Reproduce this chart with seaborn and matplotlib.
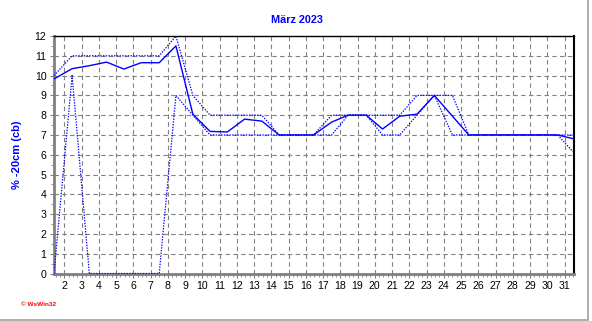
import matplotlib
matplotlib.use("Agg")
import matplotlib.pyplot as plt
from matplotlib.lines import Line2D
from matplotlib.ticker import MultipleLocator
import seaborn as sns
import pandas as pd

# ---- data (day of month as fractional time) ----
times = [1.40, 2.45, 3.45, 4.45, 5.45, 6.45, 7.5, 8.47, 9.45, 10.45, 11.45,
         12.45, 13.45, 14.45, 15.45, 16.45, 17.5, 18.45, 19.5, 20.45, 21.45,
         22.45, 23.45, 24.5, 25.45, 26.45, 27.45, 28.45, 29.45, 30.6, 31.55]
mean_vals = [9.83, 10.35, 10.5, 10.68, 10.33, 10.65, 10.65, 11.5, 8.05, 7.18, 7.15,
             7.8, 7.7, 7.0, 7.0, 7.0, 7.65, 8.0, 8.0, 7.3, 7.95,
             8.05, 9.0, 7.95, 7.0, 7.0, 7.0, 7.0, 7.0, 7.0, 6.8]
max_vals = [10, 11, 11, 11, 11, 11, 11, 12, 9, 8, 8,
            8, 8, 7, 7, 7, 8, 8, 8, 8, 8,
            9, 9, 9, 7, 7, 7, 7, 7, 7, 7]
min_vals = [0, 10, 0, 0, 0, 0, 0, 9, 8, 7, 7,
            7, 7, 7, 7, 7, 7, 8, 8, 7, 7,
            8, 9, 7, 7, 7, 7, 7, 7, 7, 6.1]
day_ticks = list(range(2, 32))
y_ticks = list(range(0, 13))
title = "März 2023"
ylabel = "% -20cm (cb)"
credit = "© WsWin32"

df = pd.DataFrame({"t": times, "mean": mean_vals, "max": max_vals, "min": min_vals})

sns.set_style("white")
plt.rcParams["font.family"] = ["Liberation Sans", "DejaVu Sans"]

fig = plt.figure(figsize=(5.92, 3.21), dpi=100)
ax = fig.add_axes([54 / 592, 1 - 273.5 / 321, 520 / 592, 237.5 / 321])

blue = "#0000ff"
sns.lineplot(data=df, x="t", y="max", ax=ax, color=blue, lw=0.9,
             linestyle=(0, (1.1, 1.1)), legend=False, zorder=3)
sns.lineplot(data=df, x="t", y="min", ax=ax, color=blue, lw=0.9,
             linestyle=(0, (1.1, 1.1)), legend=False, zorder=3)
sns.lineplot(data=df, x="t", y="mean", ax=ax, color=blue, lw=1.0,
             legend=False, zorder=4)

ax.set_xlim(1.40, 31.55)
ax.set_ylim(0, 12)
ax.set_xticks(day_ticks)
ax.set_xticklabels([str(d) for d in day_ticks])
ax.set_yticks(y_ticks)
ax.set_yticklabels([str(v) for v in y_ticks])
ax.xaxis.set_minor_locator(MultipleLocator(0.25))
ax.yaxis.set_minor_locator(MultipleLocator(0.5))

ax.grid(True, which="major", color="#808080", linestyle=(0, (4, 3)), linewidth=0.8)
ax.set_axisbelow(True)

for side in ["left", "bottom"]:
    ax.spines[side].set_color("#808080")
    ax.spines[side].set_linewidth(2.0)
ax.spines["top"].set_color("black")
ax.spines["top"].set_linewidth(1.0)
ax.spines["right"].set_color("black")
ax.spines["right"].set_linewidth(1.5)

ax.tick_params(axis="both", which="major", direction="out", length=3, width=0.8,
               color="#808080", labelsize=7.6, labelcolor="black")
ax.tick_params(axis="both", which="minor", direction="out", length=2, width=0.6,
               color="#808080")
ax.tick_params(axis="x", which="major", pad=2.5)
ax.tick_params(axis="y", which="major", pad=2.5)
ax.tick_params(bottom=True, left=True, which="both")

ax.set_xlabel("")
ax.set_ylabel(ylabel, color=blue, fontsize=8.0, fontweight="bold")
ax.yaxis.set_label_coords(-32 / 520, 0.5)

fig.text(297 / 592, 1 - 20 / 321, title, color=blue, fontsize=7.8,
         fontweight="bold", ha="center", va="center")
fig.text(21 / 592, 1 - 304 / 321, credit, color="red", fontsize=4.6,
         fontweight="bold", ha="left", va="center")

# figure frame (right and bottom)
fig.add_artist(Line2D([0, 588 / 592], [1 - 319.5 / 321] * 2, transform=fig.transFigure,
                      color="#a0a0a0", lw=1.2))
fig.add_artist(Line2D([588 / 592] * 2, [1 - 319.5 / 321, 1], transform=fig.transFigure,
                      color="#a0a0a0", lw=1.2))

fig.savefig("out.png", dpi=100)
